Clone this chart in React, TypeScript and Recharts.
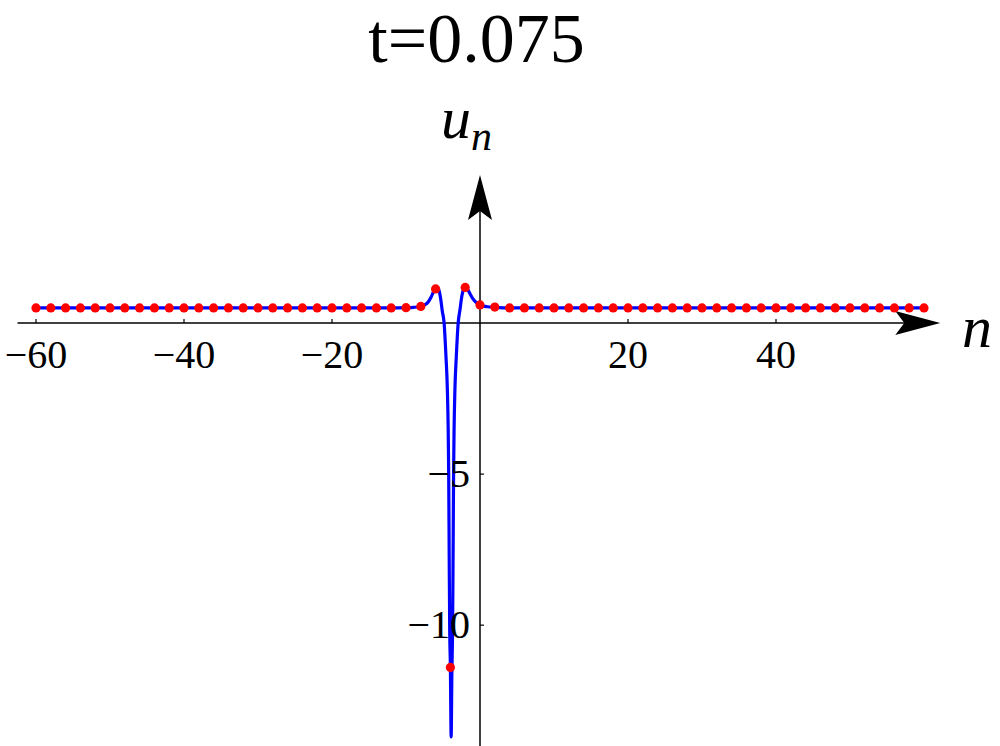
import React from 'react';
import {
  ComposedChart,
  Line,
  Scatter,
  XAxis,
  YAxis,
  ReferenceLine,
  ReferenceDot,
} from 'recharts';

// sampled lattice values u_n at t=0.075
const dotN = [
  -60, -58, -56, -54, -52, -50, -48, -46, -44, -42, -40, -38, -36, -34, -32, -30,
  -28, -26, -24, -22, -20, -18, -16, -14, -12, -10, -8, -6, -4, -2, 0, 2, 4, 6, 8,
  10, 12, 14, 16, 18, 20, 22, 24, 26, 28, 30, 32, 34, 36, 38, 40, 42, 44, 46, 48,
  50, 52, 54, 56, 58, 60,
];
const dotU = [
  0.5, 0.5, 0.5, 0.5, 0.5, 0.5, 0.5, 0.5, 0.5, 0.5, 0.5, 0.5, 0.5, 0.5, 0.5, 0.5,
  0.5, 0.5, 0.5, 0.5, 0.5, 0.5, 0.5, 0.5, 0.5, 0.51, 0.55, 1.13, -11.4, 1.18, 0.6,
  0.53, 0.5, 0.5, 0.5, 0.5, 0.5, 0.5, 0.5, 0.5, 0.5, 0.5, 0.5, 0.5, 0.5, 0.5, 0.5,
  0.5, 0.5, 0.5, 0.5, 0.5, 0.5, 0.5, 0.5, 0.5, 0.5, 0.5, 0.5, 0.5, 0.5,
];

// continuous curve
const curveN = [
  -60, -20, -12, -10, -9, -8, -7.5, -7, -6.6, -6.3, -6.1, -5.9, -5.7, -5.5, -5.3,
  -5.1, -4.85, -4.6, -4.41, -4.3, -4.23, -4.16, -4.1, -4, -3.9, -3.8, -3.7, -3.64,
  -3.57, -3.5, -3.39, -3.2, -2.95, -2.7, -2.5, -2.3, -2.1, -1.95, -1.75, -1.5, -1,
  -0.5, 0, 0.5, 1, 2, 4, 60,
];
const curveU = [
  0.5, 0.5, 0.5, 0.51, 0.52, 0.55, 0.6, 0.7, 0.86, 1.03, 1.12, 1.17, 1.17, 1.05,
  0.78, 0.4, 0, -1.1, -2.2, -3.5, -5, -7.8, -10, -11.4, -13.7, -11.6, -10, -7.8,
  -5, -3.5, -2.2, -1.1, 0, 0.45, 0.82, 1.06, 1.17, 1.19, 1.15, 1.04, 0.82, 0.68,
  0.6, 0.56, 0.54, 0.52, 0.5, 0.5,
];

const xTicks = [-60, -40, -20, 20, 40];
const yTicks = [-5, -10];

const dots = dotN.map((n, i) => ({ n, u: dotU[i] }));
const curve = curveN.map((n, i) => ({ n, u: curveU[i] }));

const font =
  "'Liberation Serif', 'Times New Roman', Times, 'Noto Serif', 'DejaVu Serif', FreeSerif, serif";
const fmt = (v: number) => (v < 0 ? '\u2212' + Math.abs(v) : String(v));

const XArrowAxis = (p: any) => {
  const { x1, y1, x2, y2 } = p;
  return (
    <g>
      <line x1={x1} y1={y1} x2={x2 - 36} y2={y2} stroke="#000" strokeWidth={1.5} />
      <polygon
        points={`${x2},${y2} ${x2 - 45},${y2 - 12} ${x2 - 36},${y2} ${x2 - 45},${y2 + 12}`}
        fill="#000"
      />
    </g>
  );
};

const YArrowAxis = (p: any) => {
  const { x1, y1, y2 } = p;
  const tipY = Math.min(y1, y2);
  const baseY = Math.max(y1, y2);
  return (
    <g>
      <line x1={x1} y1={baseY} x2={x1} y2={tipY + 36} stroke="#000" strokeWidth={1.5} />
      <polygon
        points={`${x1},${tipY} ${x1 - 12},${tipY + 45} ${x1},${tipY + 36} ${x1 + 12},${tipY + 45}`}
        fill="#000"
      />
    </g>
  );
};

const App: React.FC = () => {
  return (
    <div style={{ position: 'absolute', left: 0, top: 0, width: 1000, height: 746, background: '#fff' }}>
      <div
        style={{
          position: 'absolute',
          left: 0,
          top: 4,
          width: 953,
          textAlign: 'center',
          fontFamily: font,
          fontSize: 70,
          lineHeight: 1,
        }}
      >
        t=0.075
      </div>
      <div
        style={{
          position: 'absolute',
          left: 441,
          top: 88,
          fontFamily: font,
          fontSize: 60,
          fontStyle: 'italic',
          lineHeight: 1,
          whiteSpace: 'nowrap',
        }}
      >
        u<span style={{ fontSize: 42, position: 'relative', top: 12 }}>n</span>
      </div>
      <div
        style={{
          position: 'absolute',
          left: 962,
          top: 297,
          fontFamily: font,
          fontSize: 60,
          fontStyle: 'italic',
          lineHeight: 1,
        }}
      >
        n
      </div>
      <ComposedChart
        width={1000}
        height={746}
        margin={{ top: 172, right: 57.5, bottom: 0, left: 17.5 }}
        style={{ position: 'absolute', left: 0, top: 0 }}
      >
        <XAxis type="number" dataKey="n" domain={[-62.5, 62.5]} hide allowDataOverflow />
        <YAxis type="number" domain={[-14, 5]} hide allowDataOverflow />
        <ReferenceLine
          segment={[{ x: -62.5, y: 0 }, { x: 62.2, y: 0 }]}
          shape={XArrowAxis}
          ifOverflow="visible"
        />
        <ReferenceLine
          segment={[{ x: 0, y: -14 }, { x: 0, y: 4.9 }]}
          shape={YArrowAxis}
          ifOverflow="visible"
        />
        {xTicks.map((t) => (
          <ReferenceDot
            key={'x' + t}
            x={t}
            y={0}
            r={1}
            ifOverflow="visible"
            shape={(p: any) => (
              <g>
                <line x1={p.cx} y1={p.cy} x2={p.cx} y2={p.cy - 4} stroke="#000" strokeWidth={1.2} />
                <text
                  x={p.cx}
                  y={p.cy + 45}
                  textAnchor="middle"
                  fontFamily={font}
                  fontSize={40}
                  fill="#000"
                >
                  {fmt(t)}
                </text>
              </g>
            )}
          />
        ))}
        {yTicks.map((t) => (
          <ReferenceDot
            key={'y' + t}
            x={0}
            y={t}
            r={1}
            ifOverflow="visible"
            shape={(p: any) => (
              <g>
                <line x1={p.cx} y1={p.cy} x2={p.cx + 4} y2={p.cy} stroke="#000" strokeWidth={1.2} />
                <text
                  x={p.cx - 10}
                  y={p.cy + 13}
                  textAnchor="end"
                  fontFamily={font}
                  fontSize={40}
                  fill="#000"
                >
                  {fmt(t)}
                </text>
              </g>
            )}
          />
        ))}
        <Line
          data={curve}
          dataKey="u"
          type="monotone"
          stroke="#0000ff"
          strokeWidth={3.2}
          dot={false}
          activeDot={false}
          isAnimationActive={false}
        />
        <Scatter
          data={dots}
          dataKey="u"
          fill="#ff0000"
          isAnimationActive={false}
          shape={(p: any) => <circle cx={p.cx} cy={p.cy} r={4.6} fill="#ff0000" />}
        />
      </ComposedChart>
    </div>
  );
};

export default App;
